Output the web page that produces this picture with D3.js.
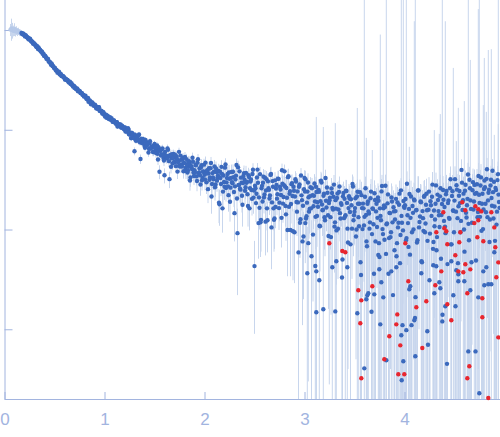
<!DOCTYPE html>
<html>
<head>
<meta charset="utf-8">
<script src="https://cdn.jsdelivr.net/npm/d3@7"></script>
<style>
  body { margin: 0; background: #fff; }
  svg { display: block; }
</style>
</head>
<body>
<div id="chart"></div>
<script>
// every point is [q, intensity, sigma]
// low-q points left out of the fit (drawn pale)
const faintPoints = [[0.06,1010,140],[0.07,1040,260],[0.08,1000,180],[0.09,985,120],[0.10,1020,150],[0.11,970,110],[0.12,990,100],[0.13,960,90],[0.14,975,80],[0.15,945,70],[0.16,950,60]];

// main curve
const curvePoints = [
  [0.17,933,6],[0.18,905,6],[0.19,912,6],[0.2,888,6],[0.21,888,6],[0.22,851,6],[0.23,842,6],[0.24,808,6],[0.25,819,6],[0.26,796,6],[0.27,769,6],[0.28,765,6],[0.29,729,6],[0.3,720,6],[0.31,708,6],[0.32,676,6],[0.33,673,6],[0.34,669,6],[0.35,636,6],[0.36,621,6],[0.37,610,6],[0.38,582,6],[0.39,579,6],[0.4,553,6],[0.41,542,6],[0.42,515,6],[0.43,515,6],[0.44,490,6],[0.45,481,6],[0.46,465,6],[0.47,462,6],[0.48,435,6],[0.49,430,6],[0.5,415,6],[0.51,402,6],[0.52,398,6],[0.53,374,6],[0.54,375,6],[0.55,363,6],[0.56,364,6],[0.57,347,6],[0.58,346,6],[0.59,337,6],[0.6,333,6],[0.61,318,6],[0.62,317,6],[0.63,316,6],[0.64,302,6],[0.65,299,6],[0.66,289,6],[0.67,293,6],[0.68,279,6],[0.69,276,6],[0.7,263,6],[0.71,264,6],[0.72,255,6],[0.73,255,6],[0.74,246,6],[0.75,243,6],[0.76,234,6],[0.77,233,6],[0.78,224,6],[0.79,224,6],[0.8,216,6],
  [0.81,219,6],[0.82,205,6],[0.83,204,6],[0.84,191,6],[0.85,198,6],[0.86,192,6],[0.87,184,6],[0.88,187,6],[0.89,175,6],[0.9,175,6],[0.91,174,6],[0.92,163,6],[0.93,166,6],[0.94,168,6],[0.95,156,6],[0.96,155,6],[0.97,154,6],[0.98,145,6],[0.99,149,6],[1,141,6],[1.01,141,6],[1.02,132,6],[1.03,138,6],[1.04,130,6],[1.05,131,6],[1.06,127,6],[1.07,131,6],[1.08,121,6],[1.09,124,6],[1.1,120,6],[1.11,116,6],[1.12,119,6],[1.13,108,6],[1.14,114,6],[1.15,110,6],[1.16,113,6],[1.17,105,6],[1.18,108,6],[1.19,104,6],[1.2,105,6],
  [1.21,96,5.5],[1.22,101.5,5.5],[1.23,96,5.5],[1.24,100.5,5.5],[1.25,90,5.5],[1.26,92.5,5.5],[1.27,82.5,5.5],[1.28,91.5,5.5],[1.29,84.5,5.5],[1.3,61,5.5],[1.31,79.3,5.5],[1.32,84,5.5],[1.33,78.5,5.5],[1.34,87.4,5.5],[1.35,78.8,5.5],[1.36,51,5.5],[1.37,80.7,5.5],[1.38,75.1,5.5],[1.39,77.6,5.5],[1.4,69.1,5.5],[1.41,79.1,5.5],[1.42,69.6,5.5],[1.43,72.1,5.5],[1.44,59.1,5.5],[1.45,73.2,5.5],[1.46,64.7,5.5],[1.47,67.3,5.5],[1.48,68.3,5.5],[1.49,59.9,5.5],[1.5,72,5.5],
  [1.51,62,6],[1.52,63.6,6],[1.53,57.4,6],[1.54,66.8,6],[1.55,38,6],[1.56,61.6,6],[1.57,56.6,6],[1.58,64.8,6],[1.59,52,6],[1.6,35,6],[1.61,54.8,6],[1.62,51.8,6],[1.63,65,6],[1.64,54.8,6],[1.65,32,6],[1.66,56,6],[1.67,51.8,6],[1.68,45.8,6],[1.69,57.2,6],[1.7,47.6,6],[1.71,52.4,6],[1.72,54.3,6],[1.73,38.1,6],[1.74,48.4,6],[1.75,43.6,6],[1.76,55.1,6],[1.77,44.9,6],[1.78,50.4,6],[1.79,38.4,6],[1.8,46.3,6],
  [1.81,41.4,6.5],[1.82,50.8,6.5],[1.83,37.3,6.5],[1.84,42.6,6.5],[1.85,46.1,6.5],[1.86,33.3,6.5],[1.87,42.6,6.5],[1.88,52.5,6.5],[1.89,37.2,6.5],[1.9,39.4,6.5],[1.91,44.3,6.5],[1.92,34.1,6.5],[1.93,46.8,6.5],[1.94,36.8,6.5],[1.95,41,6.5],[1.96,28.3,6.5],[1.97,44.2,6.5],[1.98,32.9,6.5],[1.99,38.3,6.5],[2,35.4,7],[2.01,46.9,7],[2.02,29.7,7],[2.03,39.3,7],[2.04,36.4,7],[2.05,31.6,7],[2.06,41.2,7],[2.07,21.4,7],[2.08,36.8,7],[2.09,31.9,7],[2.1,42.8,7],[2.11,28.3,7],[2.12,37.7,7],[2.13,33,7],[2.14,38.6,7],[2.15,17.9,7],[2.16,32.9,7],[2.17,42.5,7],[2.18,16.3,7],[2.19,34.8,7],[2.2,26.8,7],[2.21,44.8,7],[2.22,29.7,7],[2.23,36,7],[2.24,22.1,7],[2.25,32.3,7],[2.26,26.3,7],[2.27,37.8,7],[2.28,29.1,7],[2.29,33.5,7],[2.3,14.6,7],[2.31,31.8,7],[2.32,44.4,7],[2.33,9.2,7],[2.34,28,7],[2.35,38.3,7],[2.36,25.1,7],[2.37,29.5,7],[2.38,17.7,7],[2.39,34.4,7],[2.4,31.6,7],
  [2.41,26.6,6.5],[2.42,29.4,6.5],[2.43,22.6,6.5],[2.44,35.1,6.5],[2.45,16.3,6.5],[2.46,30.3,6.5],[2.47,24.9,6.5],[2.48,36,6.5],[2.49,20.9,6.5],[2.5,4.3,3.4],[2.51,25.9,6.5],[2.52,22.8,6.5],[2.53,39.9,6.5],[2.54,11.6,6.5],[2.55,16.5,6.5],[2.56,11.8,6.5],[2.57,25.9,6.5],[2.58,19.1,6.5],[2.59,33.9,6.5],[2.6,22.5,6.5],[2.61,12,6.5],[2.62,32,6.5],[2.63,12.4,6.5],[2.64,25.9,6.5],[2.65,20.5,6.5],[2.66,35.3,6.5],[2.67,10.5,6.5],[2.68,30.6,6.5],[2.69,16.3,6.5],[2.7,12.9,6.5],[2.71,16.8,6.5],[2.72,28,6.5],[2.73,22.6,6.5],[2.74,32.2,6.5],[2.75,18.6,6.5],[2.76,25.2,6.5],[2.77,13.1,6.5],[2.78,28.8,6.5],[2.79,21.2,6.5],[2.8,38.3,6.5],[2.81,17.2,6.5],[2.82,26.1,6.5],[2.83,9.9,6.5],[2.84,34.2,6.5],[2.85,22.8,6.5],[2.86,9.9,6.5],[2.87,28.5,6.5],[2.88,21.7,6.5],[2.89,26.8,6.5],[2.9,9.4,6.5],[2.91,31.9,6.5],[2.92,18.9,6.5],[2.93,24.1,6.5],[2.94,5.9,6.5],[2.95,28.3,6.5],[2.96,12.7,6.5],[2.97,22,6.5],[2.98,7.6,6.5],[2.99,8.5,6.5],[3,32.8,6.5],
  [3.01,31.9,7],[3.02,13.6,7],[3.03,24,7],[3.04,21.1,7],[3.05,16.1,7],[3.06,26.5,7],[3.07,5.4,7],[3.08,22.1,7],[3.09,17.1,7],[3.1,28.9,7],[3.11,13.4,7],[3.12,23.8,7],[3.13,18.8,7],[3.14,25,7],[3.15,10.9,7],[3.16,19.2,7],[3.17,29.6,7],[3.18,15.6,7],[3.19,21.8,7],[3.2,13.3,7],[3.21,32.8,7],[3.22,16.6,7],[3.23,23.4,7],[3.24,8.6,7],[3.25,19.7,7],[3.26,13.3,7],[3.27,25.8,7],[3.28,16.5,7],[3.29,21.3,7],[3.3,10.7,7],[3.31,19.7,7],[3.32,9.8,7],[3.33,23,7],[3.34,15.9,7],[3.35,27,7],[3.36,12.9,7],[3.37,17.7,7],[3.38,5,7],[3.39,23.2,7],[3.4,20.3,7],[3.41,13.9,7],[3.42,24.3,7],[3.43,10.2,7],[3.44,16.4,7],[3.45,20.5,7],[3.46,7.1,7],[3.47,17.5,7],[3.48,28.6,7],[3.49,12.4,7],[3.5,15.1,8],
  [3.51,20.6,8],[3.52,10,8],[3.53,23.9,8],[3.54,13.3,8],[3.55,18.1,8],[3.56,4.7,8],[3.57,22.1,8],[3.58,10.1,8],[3.59,16.3,8],[3.6,13.4,8],[3.61,25.9,8],[3.62,7.6,8],[3.63,18.1,8],[3.64,15.2,8],[3.65,10.2,8],[3.66,20.6,8],[3.67,1.5,8],[3.68,16.3,8],[3.69,11.3,8],[3.7,23.1,8],[3.71,7.6,8],[3.72,18.1,8],[3.73,13.1,8],[3.74,19.4,8],[3.75,5.3,8],[3.76,13.7,8],[3.77,24.1,8],[3.78,10.1,8],[3.79,16.3,8],[3.8,7.9,8],[3.81,27.5,8],[3.82,11.3,8],[3.83,18.3,8],[3.84,3.6,8],[3.85,14.7,8],[3.86,8.4,8],[3.87,21,8],[3.88,11.8,8],[3.89,16.7,8],[3.9,6.2,8],[3.91,15.3,8],[3.92,5.4,8],[3.93,18.7,8],[3.94,11.7,8],[3.95,22.9,8],[3.96,8.8,8],[3.97,13.7,8],[3.98,1.1,8],[3.99,19.3,8],[4,16.5,8],
  [4.01,20.2,9.5],[4.02,8.2,9.5],[4.03,13.9,9.5],[4.04,6.7,9.5],[4.05,22.7,9.5],[4.06,13.1,9.5],[4.07,1.1,9.5],[4.08,17.2,9.5],[4.09,10,9.5],[4.1,19.6,9.5],[4.11,2.1,9.5],[4.12,15.7,9.5],[4.13,7.8,9.5],[4.14,24.6,9.5],[4.15,11.9,9.5],[4.16,19.1,9.5],[4.17,4.8,9.5],[4.18,15.3,9.5],[4.19,9.7,9.5],[4.2,21.8,9.5],[4.21,11.5,9.5],[4.22,22.8,9.5],[4.23,7.7,9.5],[4.24,15.8,9.5],[4.25,3.1,9.5],[4.26,19.2,9.5],[4.27,13.7,9.5],[4.28,28.2,9.5],[4.29,7.5,9.5],[4.3,10.8,9.5],[4.31,18.1,9.5],[4.32,6.2,9.5],[4.33,22.4,9.5],[4.34,15.3,9.5],[4.35,10.6,9.5],[4.36,25.9,9.5],[4.37,14,9.5],[4.38,1.4,9.5],[4.39,19.9,9.5],[4.4,16.8,9.5],
  [4.41,9.2,11],[4.42,24.3,11],[4.43,4.5,11],[4.44,19.6,11],[4.45,12.8,11],[4.46,31.9,11],[4.47,7.1,11],[4.48,24.2,11],[4.49,15.4,11],[4.5,19.5,11],[4.51,1.7,11],[4.52,27.8,11],[4.53,13,11],[4.54,17.1,11],[4.55,24.3,11],[4.56,9.4,11],[4.57,39.6,11],[4.58,15.7,11],[4.59,22.9,11],[4.6,6,11],[4.61,28.1,11],[4.62,13.2,11],[4.63,20.3,11],[4.64,11.4,11],[4.65,31.5,11],[4.66,19.6,11],[4.67,4.7,11],[4.68,24.8,11],[4.69,15.9,11],[4.7,28,12],
  [4.71,0.6,12],[4.72,23.2,12],[4.73,13.3,12],[4.74,34.4,12],[4.75,18.5,12],[4.76,27.6,12],[4.77,9.7,12],[4.78,22.8,12],[4.79,15.9,12],[4.8,31,12],[4.81,18.1,12],[4.82,32.2,12],[4.83,13.3,12],[4.84,23.4,12],[4.85,7.5,12],[4.86,27.6,12],[4.87,20.7,12],[4.88,38.8,12],[4.89,12.9,12],[4.9,17,12],[4.91,26.1,12],[4.92,11.2,12],[4.93,31.3,12],[4.94,22.4,12],[4.95,16.5,12]
];

// the points that sit between the ones above
const midPoints = [
  [0.175,917,6],[0.185,926,6],[0.195,901,6],[0.205,863,6],[0.215,875,6],[0.225,846,6],[0.235,840,6],[0.245,807,6],[0.255,820,6],[0.265,778,6],[0.275,765,6],[0.285,734,6],[0.295,739,6],[0.305,716,6],[0.315,688,6],[0.325,692,6],[0.335,645,6],[0.345,650,6],[0.355,636,6],[0.365,608,6],[0.375,606,6],[0.385,579,6],[0.395,553,6],[0.405,553,6],[0.415,532,6],[0.425,514,6],[0.435,513,6],[0.445,481,6],[0.455,475,6],[0.465,449,6],[0.475,453,6],[0.485,435,6],[0.495,418,6],[0.505,417,6],[0.515,394,6],[0.525,391,6],[0.535,378,6],[0.545,382,6],[0.555,358,6],[0.565,358,6],[0.575,345,6],[0.585,347,6],[0.595,336,6],[0.605,320,6],[0.615,324,6],[0.625,313,6],[0.635,310,6],[0.645,297,6],[0.655,303,6],[0.665,288,6],[0.675,283,6],[0.685,272,6],[0.695,275,6],[0.705,267,6],[0.715,257,6],[0.725,260,6],[0.735,243,6],[0.745,246,6],[0.755,242,6],[0.765,233,6],[0.775,233,6],[0.785,225,6],[0.795,216,6],[0.805,217,6],
  [0.815,210,6],[0.825,204,6],[0.835,209,6],[0.845,193,6],[0.855,193,6],[0.865,180,6],[0.875,188,6],[0.885,182,6],[0.895,175,6],[0.905,178,6],[0.915,166,6],[0.925,169,6],[0.935,162,6],[0.945,168,6],[0.955,154,6],[0.965,155,6],[0.975,148,6],[0.985,151,6],[0.995,145,6],
  [1.005,136,6],[1.015,142,6],[1.025,135,6],[1.035,136,6],[1.045,128,6],[1.055,134,6],[1.065,126,6],[1.075,125,6],[1.085,120,6],[1.095,124,6],[1.105,120,6],[1.115,115,6],[1.125,119,6],[1.135,109,6],[1.145,113,6],[1.155,111,6],[1.165,106,6],[1.175,110,6],[1.185,105,6],[1.195,101,6],
  [1.205,105.5,5.5],[1.215,100,5.5],[1.225,96,5.5],[1.235,103.5,5.5],[1.245,90.2,5.5],[1.255,94,5.5],[1.265,82.5,5.5],[1.275,93.2,5.5],[1.285,88,5.5],[1.295,82.7,5.5],[1.305,89.4,5.5],[1.315,77.6,5.5],[1.325,83.5,5.5],[1.335,79.4,5.5],[1.345,89.8,5.5],[1.355,74.7,5.5],[1.365,80.2,5.5],[1.375,73.6,5.5],[1.385,81.1,5.5],[1.395,75.6,5.5],[1.405,66.1,5.5],[1.415,76.1,5.5],[1.425,70.1,5.5],[1.435,73.1,5.5],[1.445,64.6,5.5],[1.455,76.7,5.5],[1.465,65.7,5.5],[1.475,66.8,5.5],[1.485,59.8,5.5],[1.495,68.9,5.5],
  [1.505,66,6],[1.515,58.6,6],[1.525,69.8,6],[1.535,50.4,6],[1.545,61.6,6],[1.555,62.6,6],[1.565,55.2,6],[1.575,64,6],[1.585,56.6,6],[1.595,49.2,6],[1.605,59.9,6],[1.615,55.1,6],[1.625,52.1,6],[1.635,62.9,6],[1.645,48.5,6],[1.655,54.5,6],[1.665,42.5,6],[1.675,56.9,6],[1.685,52.1,6],[1.695,47.3,6],[1.705,56.3,6],[1.715,43.2,6],[1.725,51,6],[1.735,46.9,6],[1.745,60.1,6],[1.755,42.8,6],[1.765,50,6],[1.775,42.9,6],[1.785,52.5,6],[1.795,46.6,6],
  [1.805,53.3,6.5],[1.815,38.6,6.5],[1.825,44.7,6.5],[1.835,39,6.5],[1.845,48.3,6.5],[1.855,31,6.5],[1.865,43.5,6.5],[1.875,40.5,6.5],[1.885,47.8,6.5],[1.895,34.4,6.5],[1.905,37.3,6.5],[1.915,44.1,6.5],[1.925,30.7,6.5],[1.935,50.6,6.5],[1.945,37.3,6.5],[1.955,35,6.5],[1.965,41.8,6.5],[1.975,31.1,6.5],[1.985,37.9,6.5],[1.995,44.7,6.5],
  [2.005,31.7,7],[2.015,36.4,7],[2.025,38.9,7],[2.035,25.4,7],[2.045,41.2,7],[2.055,33.3,7],[2.065,46.4,7],[2.075,28.6,7],[2.085,33.3,7],[2.095,37.9,7],[2.105,26.5,7],[2.115,41,7],[2.125,30.9,7],[2.135,34.9,7],[2.145,18.6,7],[2.155,38,7],[2.165,28.6,7],[2.175,36.1,7],[2.185,24,7],[2.195,30,7],[2.205,41.7,7],[2.215,26.1,7],[2.225,32.9,7],[2.235,27.1,7],[2.245,37.4,7],[2.255,19,7],[2.265,32.8,7],[2.275,29.8,7],[2.285,38,7],[2.295,23.8,7],[2.305,27.1,7],[2.315,34.7,7],[2.325,20.5,7],[2.335,42,7],[2.345,27.9,7],[2.355,25.6,7],[2.365,33.1,7],[2.375,21.8,7],[2.385,29.3,7],[2.395,36.8,7],
  [2.405,24.5,6.5],[2.415,37,6.5],[2.425,30.1,6.5],[2.435,17.2,6.5],[2.445,33.6,6.5],[2.455,25.9,6.5],[2.465,31.8,6.5],[2.475,20.3,6.5],[2.485,39.7,6.5],[2.495,24.6,6.5],[2.505,27.5,6.5],[2.515,18.4,6.5],[2.525,33.2,6.5],[2.535,29.4,6.5],[2.545,21,6.5],[2.555,35.9,6.5],[2.565,12.5,6.5],[2.575,27.4,6.5],[2.585,29.5,6.5],[2.595,21,6.5],[2.605,33,6.5],[2.615,24.6,6.5],[2.625,16.3,6.5],[2.635,30.4,6.5],[2.645,25,6.5],[2.655,21.9,6.5],[2.665,36,6.5],[2.675,18.7,6.5],[2.685,26.8,6.5],[2.695,12.5,6.5],[2.705,31.1,6.5],[2.715,25.8,6.5],[2.725,20.4,6.5],[2.735,32.3,6.5],[2.745,16.4,6.5],[2.755,26.8,6.5],[2.765,22.2,6.5],[2.775,39.3,6.5],[2.785,18.2,6.5],[2.795,27.9,6.5],[2.805,27,6.5],[2.815,14.2,6.5],[2.825,20.8,6.5],[2.835,33.5,6.5],[2.845,16.9,6.5],[2.855,24.2,6.5],[2.865,18,6.5],[2.875,29.2,6.5],[2.885,9.6,6.5],[2.895,24.5,6.5],[2.905,21.4,6.5],[2.915,30.3,6.5],[2.925,15.1,6.5],[2.935,18.7,6.5],[2.945,26.8,6.5],[2.955,11.7,6.5],[2.965,34.8,6.5],[2.975,19.7,6.5],[2.985,17.3,6.5],[2.995,25.4,6.5],
  [3.005,24,7],[3.015,12.9,7],[3.025,18.6,7],[3.035,29.6,7],[3.045,15.1,7],[3.055,21.6,7],[3.065,16.3,7],[3.075,25.9,7],[3.085,8.9,7],[3.095,21.8,7],[3.105,19.1,7],[3.115,26.8,7],[3.125,13.7,7],[3.135,16.9,7],[3.145,23.9,7],[3.155,10.8,7],[3.165,30.9,7],[3.175,17.8,7],[3.185,15.8,7],[3.195,22.9,7],[3.205,12.4,7],[3.215,19.4,7],[3.225,26.4,7],[3.235,13.9,7],[3.245,18.4,7],[3.255,20.9,7],[3.265,8.4,7],[3.275,23.2,7],[3.285,15.9,7],[3.295,28.2,7],[3.305,11.8,7],[3.315,16.2,7],[3.325,20.7,7],[3.335,10.2,7],[3.345,23.8,7],[3.355,14.6,7],[3.365,18.4,7],[3.375,3.3,7],[3.385,21.5,7],[3.395,13,7],[3.405,13.5,7],[3.415,24.5,7],[3.425,18.5,7],[3.435,7.4,7],[3.445,21.6,7],[3.455,15,7],[3.465,20.1,7],[3.475,10.2,7],[3.485,27,7],[3.495,13.9,7],
  [3.505,16.4,8],[3.515,8.5,8],[3.525,21.4,8],[3.535,18.1,8],[3.545,10.8,8],[3.555,23.7,8],[3.565,3.5,8],[3.575,16.4,8],[3.585,18.2,8],[3.595,11,8],[3.605,21.3,8],[3.615,14,8],[3.625,6.8,8],[3.635,19.1,8],[3.645,14.5,8],[3.655,11.8,8],[3.665,24,8],[3.675,9,8],[3.685,16.1,8],[3.695,3.6,8],[3.705,19.8,8],[3.715,15.2,8],[3.725,10.6,8],[3.735,21,8],[3.745,7.3,8],[3.755,16.3,8],[3.765,12.4,8],[3.775,27.3,8],[3.785,9,8],[3.795,17.4,8],[3.805,16.8,8],[3.815,5.7,8],[3.825,11.5,8],[3.835,22.5,8],[3.845,8.2,8],[3.855,14.6,8],[3.865,9.4,8],[3.875,19.1,8],[3.885,2.2,8],[3.895,15.2,8],[3.905,12.6,8],[3.915,20.3,8],[3.925,7.3,8],[3.935,10.5,8],[3.945,17.7,8],[3.955,4.6,8],[3.965,24.7,8],[3.975,11.7,8],[3.985,9.8,8],[3.995,16.9,8],
  [4.005,17.5,9.5],[4.015,7.8,9.5],[4.025,28.8,9.5],[4.035,11.6,9.5],[4.045,16.1,9.5],[4.055,5.6,9.5],[4.065,21.4,9.5],[4.075,9.4,9.5],[4.085,14.7,9.5],[4.095,20,9.5],[4.105,1.3,9.5],[4.115,15.6,9.5],[4.125,7.4,9.5],[4.135,24.7,9.5],[4.145,10.5,9.5],[4.155,13.5,9.5],[4.165,18.8,9.5],[4.175,4.7,9.5],[4.185,13,9.5],[4.195,21.3,9.5],[4.205,9.4,9.5],[4.215,17.7,9.5],[4.225,15.6,9.5],[4.235,0.7,9.5],[4.245,24,9.5],[4.255,9.1,9.5],[4.265,17.5,9.5],[4.275,21.3,9.5],[4.285,6.4,9.5],[4.295,15.5,9.5],[4.305,12.6,9.5],[4.315,27.7,9.5],[4.325,8.4,9.5],[4.335,19.8,9.5],[4.345,13.9,9.5],[4.355,21.5,9.5],[4.365,5.1,9.5],[4.375,18,9.5],[4.385,24.9,9.5],[4.395,12.2,9.5],
  [4.405,10.7,11],[4.415,22.6,11],[4.425,0.45,11],[4.435,18.4,11],[4.445,13.1,11],[4.455,25.9,11],[4.465,7.1,11],[4.475,21.7,11],[4.485,15.5,11],[4.495,9.4,11],[4.505,32,11],[4.515,15.1,11],[4.525,25.1,11],[4.535,4.6,11],[4.545,21.8,11],[4.555,18.4,11],[4.565,12.2,11],[4.575,29.5,11],[4.585,19.7,11],[4.595,10,11],[4.605,24.5,11],[4.615,14.7,11],[4.625,17.5,11],[4.635,35.6,11],[4.645,7.8,11],[4.655,25.9,11],[4.665,16.1,11],[4.675,11.7,11],[4.685,29.8,11],[4.695,19.1,11],
  [4.705,22.8,12],[4.715,4.9,12],[4.725,28.4,12],[4.735,15,12],[4.745,22.3,12],[4.755,13.4,12],[4.765,33.3,12],[4.775,18.1,12],[4.785,10.1,12],[4.795,25.5,12],[4.805,26.5,12],[4.815,14.9,12],[4.825,40.2,12],[4.835,19.6,12],[4.845,25.1,12],[4.855,12.6,12],[4.865,31.6,12],[4.875,17.3,12],[4.885,23.7,12],[4.895,30.1,12],[4.905,7.7,12],[4.915,24.9,12],[4.925,15.1,12],[4.935,35.9,12],[4.945,18.9,12]
];

// stray low points and the points with very long bars
const scatterPoints = [
  [1.838,47.9,6.5],
  [3.008,11.6,7],[3.028,3.64,7],[3.038,7.3,7],[3.108,4.31,7],[3.118,3.81,7],[3.118,1.48,133],[3.148,3.1,7],[3.188,1.59,105],[3.278,4.18,7],[3.308,1.51,115],[3.318,4.8,7],[3.428,4.18,7],[3.528,1.45,164],[3.598,0.406,2500],[3.618,2,81],[3.628,2.19,8],[3.638,2.3,8],[3.698,2.24,8],[3.738,5.56,8],[3.748,4,8],[3.758,1.12,900],[3.768,2.96,8],[3.788,2.09,77],[3.818,0.489,2500],[3.868,3.81,8],[3.918,4.18,8],[3.968,0.87,2500],[3.972,0.308,8],[3.988,0.478,2500],
  [4.018,0.98,2500],[4.048,2.52,65],[4.058,2.7,9.5],[4.098,1.23,1224],[4.108,0.536,2500],[4.168,3.64,9.5],[4.228,0.955,9.5],[4.288,4.38,9.5],[4.298,2.3,97],[4.318,4.28,9.5],[4.348,2.96,88],[4.358,2.58,141],[4.378,1.2,2500],[4.408,1.7,1223],[4.468,4.8,11],[4.488,2.19,415],[4.518,3.91,73],[4.538,3.56,11],[4.538,3.03,163],[4.598,3.03,191],[4.638,0.6,2500],[4.658,2.46,499],[4.738,2.09,1620],[4.748,0.228,2500],[4.788,3.81,173],[4.798,2.76,522],[4.818,4.18,147],[4.838,2.83,628],[4.868,2.83,640],[4.898,5.91,83]
];

// points drawn red
const redPoints = [
  [3.248,7.28,7],[3.378,6.09,7],[3.408,5.91,7],[3.538,2.46,8],[3.568,1.95,8],[3.558,1.15,8],[3.568,0.323,8],[3.678,2.7,60],[3.798,0.5,8],[3.848,0.85,8],[3.918,1.12,8],[3.928,1.41,8],[3.938,0.354,8],[3.958,0.69,8],[3.998,0.354,8],
  [4.008,7.28,9.5],[4.038,3.03,9.5],[4.118,1.66,9.5],[4.178,0.65,9.5],[4.218,1.91,9.5],[4.308,2.76,9.5],[4.318,9.38,9.5],[4.368,3.81,9.5],[4.388,14.9,9.5],[4.398,10.3,11],[4.418,9.6,11],[4.428,7.11,11],[4.428,1.78,11],[4.468,1.23,11],[4.508,5.52,11],[4.538,3.81,11],[4.548,7.45,11],[4.558,9.38,11],[4.578,18.8,11],[4.588,3.73,11],[4.608,15.6,11],[4.608,4.48,11],[4.628,2.3,11],[4.628,0.323,11],[4.648,0.426,11],[4.658,3.99,11],
  [4.698,11.6,12],[4.708,17.1,12],[4.728,8.36,12],[4.738,12.4,12],[4.738,16,12],[4.768,15.2,12],[4.778,2.05,12],[4.778,1.32,12],[4.788,7.62,12],[4.838,0.205,12],[4.868,14.9,12],[4.898,10.5,12],[4.908,6.64,12],[4.918,3.32,12],[4.938,4.69,2500],[4.938,0.83,113]
];

const xTicks = [0, 1, 2, 3, 4];
const yTicks = [1, 10, 100, 1000];

const width = 500, height = 437;
const axisColor = "#a2b4df";
const barColor = "#c8d6ed";

const x = d3.scaleLinear().domain([0, 4.955]).range([4.5, 500]);
const y = d3.scaleLog().domain([0.2, 2000]).range([399, 0]).clamp(true);

const svg = d3.select("#chart")
  .append("svg")
  .attr("width", width)
  .attr("height", height);

const bluePoints = curvePoints.concat(midPoints, scatterPoints);
const allPoints = faintPoints.concat(bluePoints, redPoints);

// error bars first, under all the dots
svg.append("g")
  .attr("stroke", barColor)
  .attr("stroke-width", 1)
  .selectAll("line")
  .data(allPoints)
  .enter()
  .append("line")
  .attr("x1", d => x(d[0]))
  .attr("x2", d => x(d[0]))
  .attr("y1", d => d[1] - d[2] > 0.2 ? y(d[1] - d[2]) : y(0.2))
  .attr("y2", d => y(d[1] + d[2]));

// axes
const xAxis = svg.append("g")
  .attr("transform", "translate(0,399)")
  .call(d3.axisBottom(x).tickValues(xTicks).tickSize(-7).tickPadding(14).tickFormat(d3.format("d")));

const yAxis = svg.append("g")
  .attr("transform", "translate(4.5,0)")
  .call(d3.axisLeft(y).tickValues(yTicks).tickSize(-8).tickFormat(""));

[xAxis, yAxis].forEach(g => {
  g.select(".domain").attr("stroke", axisColor);
  g.selectAll(".tick line").attr("stroke", axisColor);
});
yAxis.select(".domain").attr("d", "M0.5,0V399.5");
xAxis.select(".domain").attr("d", "M4.5,0.5H500");

xAxis.selectAll(".tick text")
  .attr("fill", axisColor)
  .style("font-family", "'Liberation Sans', Arial, sans-serif")
  .style("font-size", "17px");

// dots
svg.append("g")
  .selectAll("circle")
  .data(faintPoints)
  .enter()
  .append("circle")
  .attr("cx", d => x(d[0]))
  .attr("cy", d => y(d[1]))
  .attr("r", 2.2)
  .attr("fill", "#b6c9e9");

svg.append("g")
  .selectAll("circle")
  .data(bluePoints)
  .enter()
  .append("circle")
  .attr("cx", d => x(d[0]))
  .attr("cy", d => y(d[1]))
  .attr("r", 2.2)
  .attr("fill", "#3b69bd");

svg.append("g")
  .selectAll("circle")
  .data(redPoints)
  .enter()
  .append("circle")
  .attr("cx", d => x(d[0]))
  .attr("cy", d => y(d[1]))
  .attr("r", 2.2)
  .attr("fill", "#e8262f");
</script>
</body>
</html>
